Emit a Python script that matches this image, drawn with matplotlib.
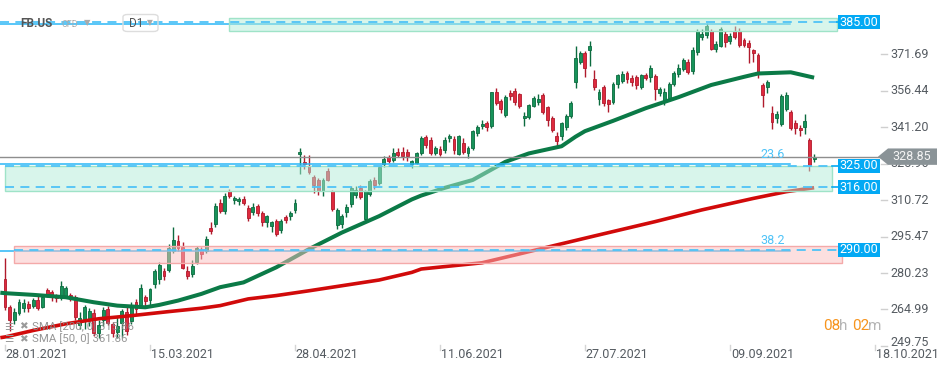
import numpy as np
import matplotlib
matplotlib.use("Agg")
import matplotlib.pyplot as plt
from matplotlib.patches import Rectangle, Polygon, FancyBboxPatch

plt.rcParams["font.family"] = ["Roboto", "DejaVu Sans"]

# === DATA (FB.US daily, 28.01.2021 .. 05.10.2021) ===
opens = [277.7, 266.0, 260.4, 263.5, 265.8, 267.2, 266.5, 269.0, 266.0, 273.0,
         272.3, 270.6, 269.8, 270.8, 271.0, 270.0, 258.5, 261.2, 260.5, 263.5,
         255.0, 260.5, 265.0, 259.0, 255.5, 259.5, 264.0, 260.0, 268.0, 267.0,
         270.0, 268.8, 275.8, 277.8, 281.0, 281.6, 289.5, 293.4, 291.3, 281.0,
         280.0, 285.0, 290.0, 289.3, 299.2, 300.6, 309.3, 306.0, 314.4, 310.7,
         310.2, 311.1, 307.5, 305.9, 308.3, 305.2, 301.7, 299.8, 302.0, 298.1,
         303.7, 303.9, 306.6, 330.0, 326.5, 324.8, 320.4, 318.9, 314.7, 323.0,
         314.4, 300.2, 300.5, 305.8, 309.2, 313.0, 315.8, 302.6, 313.4, 319.2,
         317.9, 325.9, 328.6, 327.6, 331.0, 330.6, 331.0, 325.9, 326.4, 330.4,
         337.0, 335.9, 330.4, 332.2, 331.5, 336.6, 336.3, 330.1, 334.6, 330.4,
         332.5, 338.7, 341.5, 343.0, 341.7, 356.0, 352.1, 346.3, 355.6, 356.4,
         354.9, 344.9, 345.4, 350.1, 351.5, 354.5, 349.5, 344.9, 337.4, 337.3,
         341.2, 345.9, 360.2, 368.5, 372.0, 373.6, 361.2, 353.0, 357.8, 352.6,
         351.8, 359.2, 360.6, 363.9, 361.7, 362.3, 357.8, 362.9, 362.2, 362.5,
         355.6, 352.0, 353.5, 359.2, 363.4, 365.3, 368.5, 364.7, 372.5, 378.9,
         379.5, 381.2, 373.8, 375.2, 380.2, 377.0, 381.2, 381.2, 377.5, 376.5,
         373.3, 371.3, 358.8, 358.1, 347.0, 344.9, 342.6, 348.8, 347.4, 343.1,
         341.0, 341.2, 335.9, 328.0]
highs = [286.7, 267.0, 265.5, 269.5, 269.2, 268.5, 269.8, 270.5, 271.5, 274.0,
         273.0, 271.5, 277.0, 275.0, 272.0, 271.0, 264.0, 267.0, 265.5, 265.0,
         260.5, 266.0, 266.5, 259.8, 262.0, 265.0, 267.0, 268.0, 269.5, 275.5,
         271.0, 274.0, 282.0, 285.0, 282.5, 292.5, 299.5, 296.0, 293.0, 283.0,
         285.5, 291.5, 291.0, 295.5, 301.5, 309.5, 311.0, 313.5, 315.5, 312.5,
         312.0, 312.5, 308.5, 309.5, 309.0, 306.0, 304.5, 302.0, 303.0, 303.0,
         304.5, 306.0, 311.0, 332.5, 329.7, 329.5, 321.0, 320.0, 320.0, 324.0,
         315.0, 307.5, 305.0, 309.0, 316.5, 316.5, 317.0, 315.0, 319.5, 320.5,
         325.0, 329.0, 329.5, 332.5, 332.5, 332.8, 332.0, 327.5, 331.0, 337.5,
         338.0, 337.0, 333.5, 333.5, 337.0, 338.5, 337.5, 338.0, 336.5, 333.5,
         340.0, 342.0, 344.0, 343.8, 356.0, 357.5, 353.0, 354.5, 356.5, 357.5,
         355.5, 347.5, 351.0, 354.0, 355.0, 355.5, 350.0, 346.0, 339.0, 343.5,
         346.5, 352.0, 375.1, 373.0, 373.0, 377.1, 365.0, 357.0, 359.0, 353.0,
         360.0, 363.5, 364.5, 364.5, 363.0, 363.0, 363.5, 364.0, 367.0, 363.5,
         358.0, 357.5, 360.0, 364.5, 367.5, 370.0, 369.5, 374.5, 382.0, 382.3,
         384.5, 382.0, 377.0, 383.0, 381.5, 380.5, 383.5, 382.5, 378.5, 377.5,
         374.0, 372.0, 359.5, 361.0, 350.0, 348.0, 355.0, 356.0, 348.5, 344.0,
         342.0, 346.5, 336.5, 330.0]
lows = [264.7, 256.0, 259.0, 262.5, 264.0, 263.8, 265.5, 264.8, 265.5, 270.0,
        268.5, 268.0, 269.0, 269.8, 268.5, 260.5, 257.0, 257.0, 258.0, 254.0,
        253.0, 258.0, 258.5, 253.5, 253.0, 253.5, 254.5, 259.0, 262.5, 266.5,
        266.5, 266.0, 274.0, 275.5, 277.5, 280.5, 288.5, 289.5, 282.0, 277.8,
        278.5, 284.0, 286.0, 288.5, 296.5, 299.5, 305.5, 305.0, 311.5, 309.0,
        308.5, 308.5, 302.0, 304.5, 304.0, 300.0, 299.5, 297.5, 295.5, 297.0,
        301.0, 302.5, 305.5, 321.8, 323.5, 321.5, 313.5, 313.0, 312.5, 318.5,
        306.0, 298.5, 299.0, 303.5, 308.0, 311.5, 311.0, 301.5, 312.5, 315.5,
        317.0, 324.5, 326.0, 326.5, 328.5, 327.5, 327.0, 324.0, 325.8, 329.5,
        332.5, 329.5, 329.5, 329.0, 330.5, 335.0, 330.0, 329.5, 330.0, 328.3,
        331.5, 337.5, 340.5, 339.5, 341.0, 350.5, 347.0, 345.5, 352.5, 350.5,
        349.0, 341.5, 344.5, 349.5, 350.5, 346.5, 341.5, 339.0, 333.5, 336.0,
        340.0, 345.0, 357.4, 367.5, 362.0, 366.6, 356.5, 350.5, 350.0, 347.5,
        351.0, 357.5, 359.5, 359.5, 358.5, 357.0, 357.0, 361.0, 360.0, 352.5,
        354.0, 350.5, 352.5, 358.5, 362.0, 364.5, 363.5, 363.5, 371.5, 377.5,
        378.5, 373.5, 372.5, 374.5, 374.5, 376.0, 378.0, 374.5, 374.5, 367.8,
        368.5, 361.6, 349.8, 355.5, 340.5, 343.0, 341.5, 348.0, 340.0, 338.5,
        337.5, 338.5, 322.7, 326.5]
closes = [265.9, 260.5, 263.9, 268.2, 267.8, 265.5, 268.8, 265.8, 270.3, 271.5,
          270.2, 269.8, 275.0, 274.0, 269.4, 261.8, 261.5, 266.0, 264.5, 255.0,
          258.5, 264.9, 259.2, 255.0, 258.0, 264.3, 256.0, 266.0, 265.0, 274.0,
          268.4, 273.5, 281.0, 283.4, 279.0, 290.5, 294.0, 290.6, 282.3, 279.0,
          283.0, 290.6, 288.0, 294.5, 297.8, 308.2, 306.1, 312.3, 312.6, 311.7,
          311.2, 309.3, 303.1, 308.0, 305.5, 301.7, 303.9, 301.5, 296.4, 302.0,
          302.5, 305.2, 309.3, 330.8, 325.8, 322.5, 316.9, 314.7, 319.2, 319.3,
          307.1, 306.5, 303.9, 307.7, 315.8, 314.8, 312.1, 314.4, 318.5, 316.9,
          324.4, 327.9, 326.9, 330.4, 329.7, 329.3, 329.0, 326.9, 330.4, 336.8,
          333.8, 330.4, 332.5, 329.9, 335.9, 337.6, 331.5, 337.3, 330.8, 332.5,
          339.4, 341.2, 342.6, 341.3, 355.7, 351.2, 348.7, 353.9, 354.2, 351.8,
          350.2, 345.9, 350.5, 353.3, 353.0, 347.7, 344.0, 340.1, 335.2, 342.9,
          345.9, 351.2, 369.9, 372.0, 365.7, 375.0, 358.1, 356.0, 351.2, 350.9,
          359.2, 362.9, 363.4, 361.2, 360.0, 359.0, 362.9, 361.8, 366.0, 357.1,
          357.0, 356.0, 359.2, 363.6, 366.0, 369.1, 364.3, 373.3, 381.2, 380.0,
          383.3, 374.0, 376.0, 382.4, 376.8, 379.4, 378.9, 375.7, 375.7, 374.7,
          372.2, 363.6, 354.6, 360.2, 343.3, 346.7, 354.2, 354.6, 341.0, 340.8,
          339.8, 343.8, 325.5, 328.85]

# SMA lines, sampled from the chart (bar index, value)
sma50_idx = [-1, 0, 6, 13, 19, 24, 30, 33, 37, 42, 46, 51, 58, 65, 72, 80, 87, 89,
             94, 100, 107, 112, 119, 122, 124, 130, 137, 144, 151, 158, 161, 168, 173]
sma50_val = [272.0, 271.8, 271.1, 270.1, 268.0, 266.6, 265.9, 266.9, 268.7, 271.5,
             274.3, 276.3, 282.6, 290.2, 297.1, 304.0, 311.0, 312.6, 315.8, 319.1,
             326.7, 330.2, 333.2, 337.2, 339.5, 343.8, 349.1, 353.7, 358.8, 362.2,
             363.6, 364.1, 361.86]
sma200_idx = [-1, 0, 6, 13, 20, 27, 35, 42, 46, 52, 58, 65, 72, 80, 87, 89, 102,
              110, 117, 126, 139, 149, 160, 167, 173]
sma200_val = [253.2, 253.5, 256.2, 259.0, 261.1, 262.4, 264.1, 265.5, 266.6, 269.4,
              270.8, 272.8, 274.9, 277.3, 280.5, 281.9, 284.5, 288.2, 291.5, 295.7,
              301.7, 306.6, 311.4, 314.2, 315.86]

date_idx = [0, 31, 62, 93, 124, 155, 186]
date_labels = ["28.01.2021", "15.03.2021", "28.04.2021", "11.06.2021",
               "27.07.2021", "09.09.2021", "18.10.2021"]
price_ticks = [371.69, 356.44, 341.20, 325.96, 310.72, 295.47, 280.23, 264.99, 249.75]
levels = [385.00, 325.00, 316.00, 290.00]
fib_vals = [384.3, 325.65, 289.6]
fib_names = ["0.0", "23.6", "38.2"]
last_price = 328.85
sma_legend = ["SMA [200, 0] 315.86", "SMA [50, 0] 361.86"]

# === PIXEL <-> DATA HELPERS (layout only) ===
W, H = 950, 371
def bx(px):
    return (px - 5.0) / 4.677
def vy(py):
    return 341.2 - (py - 127.1) / 2.393

BLUE = "#03a9f4"
DASH = "#4fc3f7"
TXT = "#555b61"

fig = plt.figure(figsize=(W / 100, H / 100), dpi=100)
ax = fig.add_axes([0, 0, 1, 1])
ax.set_xlim(bx(0), bx(W))
ax.set_ylim(vy(H), vy(0))
ax.axis("off")

# === CANDLES ===
idx = np.arange(len(closes))
o = np.array(opens); c = np.array(closes)
hi = np.array(highs); lo = np.array(lows)
up = c >= o
body_lo = np.minimum(o, c)
body_h = np.maximum(np.abs(c - o), 0.4)
for mask, face, edge in [(up, "#17935a", "#0c6b3f"), (~up, "#de2a3e", "#b01a2c")]:
    ax.vlines(idx[mask], lo[mask], hi[mask], colors=edge, linewidth=1.0, zorder=2)
    ax.bar(idx[mask], body_h[mask], bottom=body_lo[mask], width=0.62, color=face,
           edgecolor=edge, linewidth=0.6, zorder=2.1)

# === SMA ===
ax.plot(sma200_idx, sma200_val, color="#d10a0a", lw=2.6, zorder=3, solid_capstyle="butt")
ax.plot(sma50_idx, sma50_val, color="#0b7a47", lw=2.9, zorder=3, solid_capstyle="butt")

# === FIBO LINES ===
for v, name in zip(fib_vals, fib_names):
    ax.plot([bx(0), bx(790)], [v, v], color="#29b6f6", lw=1.1, zorder=3.5)
    if name != "0.0":
        ax.text(bx(785), v + 1.3, name, color="#4fc3f7", fontsize=9,
                ha="right", va="bottom", zorder=6)

# === ZONES ===
zones = [(229, 836.7, 381.5, 386.7, "#b3ecd8", "#9fe3c8"),
         (5, 831.7, 314.3, 325.1, "#b3ecd8", "#9fe3c8"),
         (14, 841.7, 284.6, 291.5, "#fbc1c1", "#f4a9a9")]
for x0, x1, v0, v1, fc, ec in zones:
    ax.add_patch(Rectangle((bx(x0), v0), bx(x1) - bx(x0), v1 - v0, facecolor=fc,
                           alpha=0.5, edgecolor="none", zorder=4))
    ax.add_patch(Rectangle((bx(x0), v0), bx(x1) - bx(x0), v1 - v0, facecolor="none",
                           edgecolor=ec, lw=1.0, zorder=4.1))

# === LEVEL LINES + LABELS ===
starts = [0, 5, 5, 14]
ends = [836.7, 831.7, 831.7, 838]
for lv, s, e in zip(levels, starts, ends):
    ax.plot([bx(s), bx(e)], [lv, lv], color=DASH, lw=1.3, dashes=(5, 3.5), zorder=5)
    ax.plot([bx(e), bx(838)], [lv, lv], color=BLUE, lw=1.2, zorder=5)
    ax.add_patch(Rectangle((bx(838), lv - 7 / 2.393), bx(880) - bx(838), 14 / 2.393,
                           facecolor=BLUE, edgecolor="none", zorder=7, clip_on=False))
    ax.text(bx(859), lv, f"{lv:.2f}", color="white", fontsize=9, ha="center",
            va="center", zorder=8)

# current price line
ax.plot([bx(0), bx(880)], [last_price, last_price], color="#8e8e8e", lw=1.0, zorder=5)

# === RIGHT AXIS ===
for v in price_ticks:
    yy = v if v != 249.75 else vy(342)  # bottom label is lifted above the dates
    ax.plot([bx(881), bx(887)], [v, v], color="#cfcfcf", lw=1, zorder=6)
    ax.text(bx(890), yy, f"{v:.2f}", color=TXT, fontsize=9, ha="left", va="center", zorder=6)

pyc = 127.1 - (last_price - 341.2) * 2.393
poly = [(878, pyc), (888, pyc - 8.2), (937, pyc - 8.2), (937, pyc + 8.2), (888, pyc + 8.2)]
ax.add_patch(Polygon([(bx(px), vy(py)) for px, py in poly], closed=True,
                     facecolor="#8a9397", edgecolor="none", zorder=9))
ax.text(bx(912), last_price, f"{last_price:.2f}", color="#f4f4f4", fontsize=9,
        ha="center", va="center", zorder=10)

# === DATE AXIS ===
for i, lab in zip(date_idx, date_labels):
    ax.plot([i, i], [vy(345), vy(350)], color="#d5d5d5", lw=1, zorder=6)
    ax.text(i + 0.2, vy(354.5), lab, color=TXT, fontsize=9, ha="left", va="center", zorder=6)

# === HEADER ===
ax.text(bx(20), vy(23.5), "FB.US", color="#555555", fontsize=8.5, fontweight="bold",
        ha="left", va="center", zorder=8)
ax.text(bx(62), vy(24.5), "CFD", color="#aaaaaa", fontsize=6.5, ha="left", va="center", zorder=8)
ax.text(bx(84), vy(22.5), "▼", color="#aaaaaa", fontsize=6, ha="left", va="center", zorder=8)
ax.add_patch(FancyBboxPatch((bx(123), vy(31.5)), bx(158) - bx(123), vy(14.5) - vy(31.5),
                            boxstyle="round,pad=0,rounding_size=1.0", facecolor="none",
                            edgecolor="#dddddd", lw=1, zorder=8))
ax.text(bx(129), vy(23.5), "D1", color="#555555", fontsize=8.5, ha="left", va="center", zorder=8)
ax.text(bx(147), vy(23), "▼", color="#aaaaaa", fontsize=5.5, ha="left", va="center", zorder=8)

# === SMA LEGEND ===
for k, lab in enumerate(sma_legend):
    yy = vy(326.5 + 12.5 * k)
    ax.text(bx(4), yy, "☰", color="#9a9a9a", fontsize=7.5, ha="left", va="center", zorder=8)
    ax.text(bx(19), yy, "✖", color="#9a9a9a", fontsize=7.5, ha="left", va="center", zorder=8)
    ax.text(bx(31.5), yy, lab, color="#8a8a8a", fontsize=8.2, ha="left", va="center",
            alpha=0.9, zorder=8)

# === COUNTDOWN ===
for px, s, col in [(823, "08", "#f7941d"), (839, "h", "#b5b5b5"),
                   (852, "02", "#f7941d"), (868, "m", "#b5b5b5")]:
    ax.text(bx(px), vy(326), s, color=col, fontsize=11, ha="left", va="center", zorder=8)

plt.savefig("out.png", dpi=100)
